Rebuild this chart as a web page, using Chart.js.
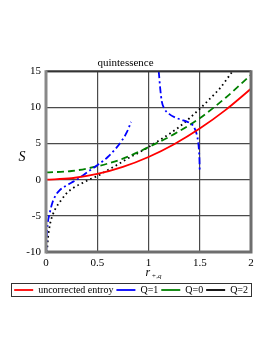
<!DOCTYPE html>
<html><head><meta charset="utf-8">
<script src="https://cdn.jsdelivr.net/npm/chart.js@4/dist/chart.umd.min.js"></script>
<style>html,body{margin:0;padding:0;background:#fff;}</style>
</head><body>
<canvas id="c" width="273" height="353"></canvas>
<script>
// ---- data ----
const chartTitle = 'quintessence';
const seriesNames = ['uncorrected entroy', 'Q=1', 'Q=0', 'Q=2'];
const xTicks = [0, 0.5, 1, 1.5, 2];
const yTicks = [-10, -5, 0, 5, 10, 15];

const redX = [0, 0.25, 0.5, 0.75, 1, 1.25, 1.5, 1.75, 2];
const redY = [0, 0.2, 0.79, 1.77, 3.14, 4.91, 7.07, 9.62, 12.57];

const blueX = [0.002, 0.006, 0.015, 0.035, 0.06, 0.085, 0.13, 0.2, 0.25, 0.3, 0.4, 0.5, 0.6, 0.68, 0.74, 0.79, 0.83,
               null,
               1.10, 1.115, 1.13, 1.16, 1.2, 1.26, 1.32, 1.38, 1.42, 1.45, 1.475, 1.49, 1.497, 1.5];
const blueY = [-10, -8, -6.2, -4.7, -3.3, -2.4, -1.5, -0.8, -0.4, 0, 1.0, 2.0, 3.1, 4.3, 5.4, 6.6, 8.0,
               null,
               15, 12.5, 10.8, 9.7, 9.1, 8.6, 8.3, 8.0, 7.7, 7.1, 6.0, 4.5, 2.8, 1.0];

const greenX = [0, 0.25, 0.5, 0.75, 1, 1.25, 1.5, 1.75, 2];
const greenY = [1.0, 1.2, 1.85, 2.9, 4.5, 6.3, 8.5, 11.3, 14.5];

const blackX = [0.01, 0.02, 0.04, 0.07, 0.1, 0.15, 0.2, 0.27, 0.35, 0.42, 0.5, 0.6, 0.7, 0.8, 0.9, 1.0, 1.1, 1.2, 1.3, 1.4, 1.5, 1.6, 1.7, 1.82];
const blackY = [-10, -8, -6.1, -4.7, -3.8, -2.8, -1.9, -1.1, -0.5, 0.0, 0.5, 1.3, 2.1, 2.95, 3.7, 4.5, 5.4, 6.3, 7.3, 8.5, 9.8, 11.2, 12.7, 15.0];

const pts = (xs, ys) => xs.map((x, i) => (x === null ? {x: NaN, y: null} : {x: x, y: ys[i]}));

const serif = "'Liberation Serif', 'DejaVu Serif', serif";

const extras = {
  id: 'extras',
  afterDatasetsDraw(chart) {
    const {ctx, chartArea: a} = chart;
    ctx.save();
    ctx.setLineDash([]);
    ctx.strokeStyle = '#333'; ctx.lineWidth = 2;
    ctx.beginPath(); ctx.moveTo(a.left, a.top); ctx.lineTo(a.right, a.top); ctx.stroke();
    ctx.strokeStyle = '#6e6e6e'; ctx.lineWidth = 3;
    ctx.beginPath(); ctx.moveTo(a.right, a.top - 1); ctx.lineTo(a.right, a.bottom + 1.5);
    ctx.moveTo(a.left, a.bottom); ctx.lineTo(a.right + 1.5, a.bottom); ctx.stroke();
    ctx.strokeStyle = '#888'; ctx.lineWidth = 3;
    ctx.beginPath(); ctx.moveTo(a.left, a.top - 1); ctx.lineTo(a.left, a.bottom + 1.5); ctx.stroke();
    ctx.restore();
  },
  afterDraw(chart) {
    const {ctx, chartArea: a} = chart;
    ctx.save();
    ctx.fillStyle = '#000';
    ctx.font = "italic 14px " + serif;
    ctx.textAlign = 'center'; ctx.textBaseline = 'middle';
    ctx.fillText('S', 22, (a.top + a.bottom) / 2 - 4);
    const xs = chart.scales.x;
    const cx = (a.left + a.right) / 2 + 0;
    const ty = xs.bottom - 6;
    ctx.textAlign = 'left'; ctx.textBaseline = 'alphabetic';
    ctx.font = "italic 12px " + serif;
    ctx.fillText('r', cx - 3, ty);
    ctx.font = "italic 7px " + serif;
    ctx.fillText('+,q', cx + 3, ty + 2);
    const lg = chart.legend;
    if (lg && lg.legendHitBoxes && lg.legendHitBoxes.length) {
      const hb = lg.legendHitBoxes;
      let l = Infinity, r = -Infinity, t = Infinity, b = -Infinity;
      hb.forEach(h => { l = Math.min(l, h.left); r = Math.max(r, h.left + h.width); t = Math.min(t, h.top); b = Math.max(b, h.top + h.height); });
      ctx.strokeStyle = '#333'; ctx.lineWidth = 1;
      ctx.strokeRect(Math.round(l - 3) + 0.5, Math.round(t - 2) + 0.5, Math.round(r - l + 6), Math.round(b - t + 3));
    }
    ctx.restore();
  }
};

const common = {pointRadius: 0, fill: false, tension: 0, cubicInterpolationMode: 'monotone', spanGaps: false};

new Chart(document.getElementById('c'), {
  type: 'line',
  data: {
    datasets: [
      Object.assign({label: seriesNames[0], data: pts(redX, redY), borderColor: '#ff0000', borderWidth: 1.8}, common),
      Object.assign({label: seriesNames[1], data: pts(blueX, blueY), borderColor: '#0000ff', borderWidth: 1.8, borderDash: [7, 3, 2, 3]}, common),
      Object.assign({label: seriesNames[2], data: pts(greenX, greenY), borderColor: '#008000', borderWidth: 1.8, borderDash: [7, 4]}, common),
      Object.assign({label: seriesNames[3], data: pts(blackX, blackY), borderColor: '#000000', borderWidth: 1.8, borderDash: [1.6, 3.2]}, common)
    ]
  },
  options: {
    responsive: false,
    animation: false,
    layout: {padding: {top: 57, left: 0, right: 22, bottom: 48}},
    plugins: {
      title: {display: true, text: chartTitle, color: '#000', font: {family: serif, size: 11, weight: 'normal'}, padding: {top: 0, bottom: 1}},
      legend: {
        display: true, position: 'bottom', align: 'end',
        labels: {
          usePointStyle: true, pointStyle: 'line', pointStyleWidth: 19, boxHeight: 10,
          color: '#000', padding: 3,
          font: {family: serif, size: 10}
        }
      },
      tooltip: {enabled: false}
    },
    scales: {
      x: {
        type: 'linear', min: 0, max: 2,
        afterFit: s => { s.height = 30; },
        afterBuildTicks: s => { s.ticks = xTicks.map(v => ({value: v})); },
        grid: {color: '#4a4a4a', lineWidth: 1.2, drawTicks: false},
        border: {display: false},
        ticks: {color: '#000', padding: 5, maxRotation: 0, font: {family: serif, size: 11}, callback: v => String(v)}
      },
      y: {
        type: 'linear', min: -10, max: 15,
        afterFit: s => { s.width = 46; },
        afterBuildTicks: s => { s.ticks = yTicks.map(v => ({value: v})); },
        grid: {color: '#4a4a4a', lineWidth: 1.2, drawTicks: false},
        border: {display: false},
        ticks: {color: '#000', padding: 5, font: {family: serif, size: 11}, callback: v => String(v)}
      }
    }
  },
  plugins: [extras]
});
</script>
</body></html>
